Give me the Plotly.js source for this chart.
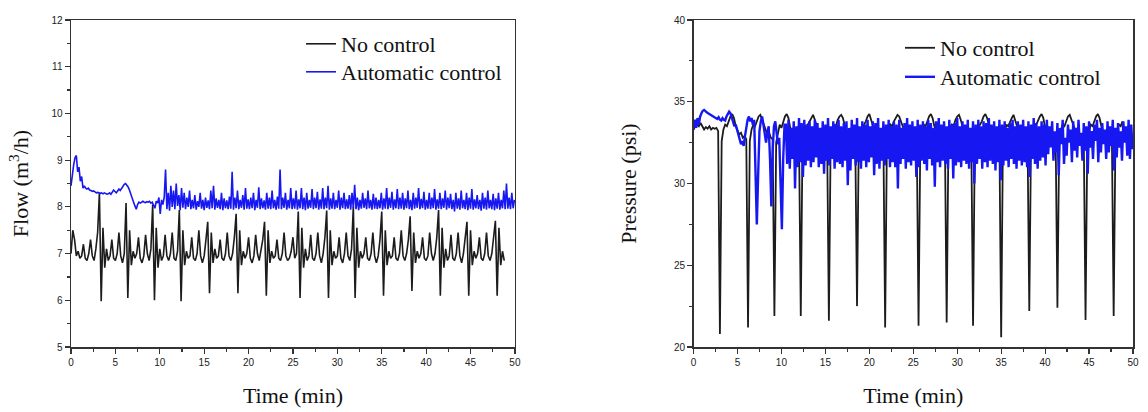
<!DOCTYPE html>
<html>
<head>
<meta charset="utf-8">
<script src="https://cdn.plot.ly/plotly-3.0.1.min.js"></script>
<style>html,body{margin:0;padding:0;background:#fff;}#chart{width:1148px;height:412px;}</style>
</head>
<body>
<div id="chart"></div>
<script>
// ---- data ----
const seriesNames = ['No control', 'Automatic control'];
const startTime = 0;          // min
const stepNoControl = 0.2;    // sampling step (min) of the "No control" records
const stepAutomatic = 0.15;   // sampling step (min) of the "Automatic control" records

// Flow (m3/h), no control
const flowNoControl = [
  7.0, 7.5, 7.3, 6.95, 7.05, 6.9, 6.95, 7.2, 6.9, 6.85, 7.0, 7.3, 6.95, 6.85, 7.1, 7.45,
  8.3, 5.98, 7.55, 6.7, 7.1, 6.85, 6.95, 7.3, 6.9, 6.85, 7.0, 7.45, 6.95, 6.8, 7.0,
  8.08, 6.05, 7.5, 6.75, 7.05, 6.9, 7.0, 7.35, 6.9, 6.8, 6.95, 7.4, 7.0, 6.85, 7.1,
  8.05, 6.0, 7.55, 6.7, 7.1, 6.85, 6.95, 7.4, 6.95, 6.85, 7.0, 7.45, 6.9, 6.85, 7.05,
  7.93, 5.98, 7.5, 6.75, 7.05, 6.9, 6.95, 7.35, 6.9, 6.85, 7.0, 7.5, 6.95, 6.8, 6.95, 7.3,
  7.68, 6.15, 7.45, 6.8, 7.1, 6.9, 6.95, 7.3, 6.9, 6.85, 7.0, 7.45, 6.95, 6.85, 7.0, 7.35,
  7.85, 6.15, 7.5, 6.75, 7.05, 6.9, 7.0, 7.35, 6.9, 6.8, 6.95, 7.4, 7.0, 6.85, 7.05, 7.3,
  7.68, 6.1, 7.5, 6.8, 7.05, 6.9, 6.95, 7.3, 6.9, 6.85, 7.0, 7.45, 6.95, 6.85, 6.9, 7.05, 7.35, 6.9, 7.0,
  7.9, 6.05, 7.55, 6.7, 7.1, 6.85, 6.95, 7.4, 6.9, 6.85, 7.0, 7.45, 6.95, 6.8, 7.0, 7.35,
  7.92, 6.05, 7.5, 6.75, 7.05, 6.9, 6.95, 7.35, 6.9, 6.8, 7.0, 7.45, 6.95, 6.85, 7.1,
  8.0, 6.05, 7.55, 6.7, 7.05, 6.9, 7.0, 7.35, 6.9, 6.85, 7.0, 7.45, 6.95, 6.8, 6.95, 7.3,
  7.9, 6.1, 7.5, 6.75, 7.05, 6.9, 6.95, 7.35, 6.9, 6.85, 7.0, 7.5, 6.95, 6.85, 7.0, 7.3,
  7.8, 6.2, 7.45, 6.8, 7.05, 6.9, 7.0, 7.35, 6.9, 6.85, 6.95, 7.45, 7.0, 6.85, 7.0, 7.35,
  7.93, 6.1, 7.55, 6.7, 7.1, 6.85, 6.95, 7.4, 6.9, 6.85, 7.0, 7.45, 6.95, 6.8, 7.0, 7.3,
  7.68, 6.1, 7.5, 6.75, 7.05, 6.9, 7.0, 7.35, 6.9, 6.85, 7.0, 7.45, 6.95, 6.85, 7.0, 7.35,
  7.7, 6.1, 7.55, 6.75, 7.05, 6.85
];

// Flow (m3/h), automatic control
const flowAutomatic = [
  8.45, 8.7, 8.9, 9.05, 9.1, 8.75, 8.85, 8.55, 8.65, 8.4, 8.45, 8.4, 8.38, 8.4, 8.36, 8.35, 8.33, 8.34, 8.32, 8.3,
  8.31, 8.3, 8.29, 8.3, 8.28, 8.3, 8.29, 8.27, 8.28, 8.3, 8.27, 8.32, 8.36, 8.33, 8.3, 8.34, 8.38, 8.35, 8.4, 8.45,
  8.48, 8.5, 8.46, 8.42, 8.35, 8.25, 8.15, 8.1, 8.02, 7.95, 8.05, 8.1, 8.08, 8.1, 8.12, 8.1, 8.09, 8.11, 8.1, 8.12,
  8.08, 8.1, 8.05, 7.97, 8.12, 8.08, 8.2, 7.85, 8.15, 8.05,
  8.2, 8.8, 7.95, 8.3, 7.92, 8.45, 8.0, 8.35, 7.95, 8.5, 8.02, 8.25, 7.93, 8.4, 7.98, 8.3, 7.95, 8.2, 8.0, 8.35,
  7.95, 8.15, 7.97, 8.25, 7.94, 8.12, 8.0, 8.3, 7.96, 8.15, 7.93, 8.2, 7.98, 8.14, 7.95, 8.35, 7.97, 8.45, 7.94, 8.18,
  7.98, 8.15, 7.95, 8.3, 7.93, 8.18, 7.97, 8.14, 7.95, 8.22, 7.96, 8.75, 7.94, 8.2, 7.97, 8.35, 7.95, 8.15, 7.98, 8.25,
  7.94, 8.4, 7.96, 8.16, 7.95, 8.2, 7.97, 8.3, 7.93, 8.15, 7.98, 8.42, 7.95, 8.18, 7.97, 8.14, 7.94, 8.3, 7.96, 8.2,
  7.95, 8.35, 7.97, 8.15, 7.94, 8.22, 7.96, 8.8, 7.95, 8.2, 7.98, 8.3, 7.94, 8.15, 7.97, 8.4, 7.95, 8.18, 7.96, 8.35,
  7.94, 8.16, 7.97, 8.4, 7.95, 8.2, 7.93, 8.3, 7.96, 8.15, 7.98, 8.38, 7.95, 8.2, 7.97, 8.32, 7.94, 8.16, 7.96, 8.4,
  7.95, 8.2, 7.97, 8.45, 7.94, 8.18, 7.96, 8.3, 7.95, 8.15, 7.98, 8.35, 7.94, 8.2, 7.97, 8.3, 7.95, 8.16, 7.96, 8.25,
  7.94, 8.3, 7.97, 8.47, 7.95, 8.2, 7.93, 8.15, 7.96, 8.3, 7.98, 8.18, 7.95, 8.35, 7.97, 8.15, 7.94, 8.28, 7.96, 8.2,
  7.95, 8.15, 7.97, 8.3, 7.94, 8.18, 7.96, 8.4, 7.95, 8.2, 7.98, 8.32, 7.94, 8.16, 7.97, 8.38, 7.95, 8.2, 7.96, 8.3,
  7.94, 8.18, 7.97, 8.35, 7.95, 8.15, 7.93, 8.3, 7.96, 8.2, 7.98, 8.4, 7.95, 8.17, 7.97, 8.32, 7.94, 8.15, 7.96, 8.3,
  7.95, 8.2, 7.97, 8.38, 7.94, 8.16, 7.96, 8.3, 7.95, 8.18, 7.98, 8.35, 7.94, 8.2, 7.97, 8.28, 7.95, 8.15, 7.9, 8.3,
  7.96, 8.18, 7.94, 8.35, 7.97, 8.15, 7.95, 8.3, 7.93, 8.2, 7.96, 8.38, 7.94, 8.16, 7.97, 8.25, 7.95, 8.15, 7.92, 8.3,
  7.96, 8.2, 7.94, 8.35, 7.97, 8.15, 7.95, 8.28, 7.93, 8.18, 7.96, 8.3, 7.94, 8.15, 7.97, 8.35, 7.95, 8.5, 7.96, 8.2,
  7.95, 8.3, 7.97, 8.15
];

// Pressure (psi), no control
const pressureNoControl = [
  33.3, 33.5, 33.6, 33.5, 33.7, 33.5, 33.3, 33.45, 33.35, 33.5, 33.3, 33.4, 33.35, 33.4, 33.2,
  20.8, 32.6, 33.3, 33.6, 33.5, 33.8, 34.1, 34.25, 34.0, 33.5, 33.2, 33.0, 33.1, 32.8, 32.9, 32.7,
  21.2, 32.6, 33.3, 33.6, 33.5, 33.8, 34.1, 34.2, 33.9, 33.5, 33.2, 33.0, 33.1, 32.8, 32.7,
  21.9, 32.5, 33.2, 33.6, 33.4, 33.8, 34.1, 34.25, 34.0, 33.4, 33.1, 33.0, 33.2, 32.9, 32.7,
  21.9, 32.6, 33.3, 33.5, 33.6, 33.8, 34.0, 34.2, 33.9, 33.5, 33.2, 33.0, 33.1, 32.8, 32.9, 32.7,
  21.6, 32.6, 33.2, 33.6, 33.5, 33.9, 34.1, 34.2, 34.0, 33.5, 33.1, 33.0, 33.2, 32.9, 32.8, 32.6,
  22.5, 32.7, 33.3, 33.5, 33.6, 33.8, 34.1, 34.25, 33.9, 33.4, 33.2, 33.0, 33.1, 32.8, 32.9, 32.7,
  21.2, 32.6, 33.3, 33.6, 33.5, 33.8, 34.0, 34.2, 34.1, 33.8, 33.4, 33.2, 33.0, 33.1, 32.9, 33.0, 32.8, 32.9, 32.7,
  21.3, 32.6, 33.2, 33.6, 33.5, 33.8, 34.1, 34.25, 34.0, 33.5, 33.2, 33.0, 33.1, 32.8, 32.9, 32.7,
  21.5, 32.6, 33.3, 33.6, 33.5, 33.9, 34.1, 34.2, 33.9, 33.4, 33.1, 33.0, 33.2, 32.9, 32.7,
  21.3, 32.5, 33.3, 33.5, 33.6, 33.8, 34.1, 34.25, 34.0, 33.5, 33.2, 33.0, 33.1, 32.8, 32.9, 32.7,
  20.6, 32.6, 33.2, 33.6, 33.5, 33.8, 34.0, 34.2, 33.9, 33.5, 33.1, 33.0, 33.2, 32.9, 32.8, 32.7,
  22.2, 32.7, 33.3, 33.5, 33.6, 33.9, 34.1, 34.25, 34.0, 33.4, 33.2, 33.0, 33.1, 32.8, 32.9, 32.7,
  22.4, 32.6, 33.3, 33.6, 33.5, 33.8, 34.1, 34.2, 33.9, 33.5, 33.2, 33.0, 33.1, 32.9, 32.8, 32.7,
  21.65, 32.6, 33.2, 33.6, 33.5, 33.8, 34.1, 34.25, 34.0, 33.5, 33.1, 33.0, 33.2, 32.8, 32.9, 32.7,
  21.9, 32.6, 33.3, 33.6, 33.5, 33.8
];

// Pressure (psi), automatic control
const pressureAutomatic = [
  33.3, 33.9, 33.4, 34.0, 33.6, 34.1, 34.3, 34.45, 34.5, 34.4, 34.35, 34.3, 34.25, 34.2, 34.15, 34.1, 34.05, 34.0, 33.95, 34.05,
  33.9, 33.85, 34.0, 33.9, 33.85, 34.1, 34.3, 34.4, 34.3, 34.0, 33.7, 33.5, 33.6, 33.3, 33.0, 32.7, 32.4, 32.6, 32.3, 32.9,
  33.5, 33.9, 34.1, 33.8, 34.0, 33.6, 33.9, 31.0, 27.5, 30.5, 33.2, 33.8, 34.1, 33.6, 33.0, 32.5, 33.1, 33.5, 31.5, 28.6,
  32.0, 33.5, 33.8, 33.2, 32.4, 32.8, 30.0, 27.2, 31.5, 33.6,
  33.6, 31.2, 33.9, 30.9, 33.4, 31.5, 33.8, 29.7, 33.5, 31.0, 34.0, 31.3, 33.7, 30.4, 33.9, 31.1, 33.6, 31.4, 33.8, 31.0,
  33.5, 31.3, 33.9, 31.6, 33.7, 31.0, 33.4, 31.2, 33.8, 30.6, 33.6, 31.4, 34.0, 31.1, 33.5, 31.5, 33.8, 30.9, 33.6, 31.3,
  33.9, 31.2, 33.5, 31.0, 33.7, 31.4, 33.8, 29.9, 33.4, 30.8, 33.9, 31.5, 33.6, 31.1, 34.0, 31.3, 33.5, 30.9, 33.8, 31.4,
  33.6, 31.0, 33.9, 31.3, 33.5, 31.6, 33.8, 30.5, 33.7, 31.2, 34.0, 30.9, 33.4, 31.4, 33.8, 31.1, 33.6, 31.5, 33.9, 31.0,
  33.5, 31.3, 33.8, 31.0, 33.6, 29.7, 33.9, 31.2, 33.4, 31.5, 33.7, 30.9, 34.0, 31.3, 33.6, 31.1, 33.8, 31.4, 33.5, 30.4,
  33.9, 31.0, 33.6, 31.4, 33.8, 31.2, 33.5, 30.8, 33.9, 31.5, 33.7, 31.1, 33.4, 29.8, 33.8, 31.3, 34.0, 31.0, 33.6, 31.4,
  33.8, 31.2, 33.5, 30.9, 33.9, 31.5, 33.6, 30.3, 33.7, 31.1, 34.0, 31.3, 33.5, 31.0, 33.8, 31.4, 33.6, 31.2, 33.9, 30.9,
  33.4, 31.3, 33.8, 30.0, 33.6, 31.2, 33.9, 31.5, 33.5, 30.9, 33.8, 31.3, 33.7, 31.0, 34.0, 31.4, 33.6, 31.2, 33.8, 30.8,
  33.5, 31.3, 33.9, 30.2, 33.6, 31.1, 33.8, 31.4, 33.4, 31.0, 33.7, 31.5, 33.9, 31.2, 33.5, 30.9, 33.8, 31.4, 33.6, 31.1,
  33.9, 31.3, 33.5, 31.0, 33.8, 30.4, 33.6, 31.5, 34.0, 31.2, 33.7, 30.9, 33.5, 31.4, 33.8, 31.6, 33.6, 31.1, 33.9, 31.8,
  33.5, 32.2, 33.8, 31.4, 33.2, 31.9, 33.7, 30.5, 33.4, 32.4, 33.9, 31.2, 32.8, 31.7, 33.6, 32.5, 33.3, 31.3, 33.8, 32.0,
  33.4, 31.6, 33.9, 32.3, 33.1, 31.4, 33.7, 32.0, 33.5, 30.6, 33.8, 32.2, 33.2, 31.5, 33.6, 32.6, 33.9, 31.3, 33.4, 31.9,
  33.7, 32.4, 33.3, 31.5, 33.8, 31.9, 33.5, 32.3, 33.9, 30.8, 33.4, 31.6, 33.7, 32.2, 33.2, 31.4, 33.8, 32.5, 33.5, 31.7,
  33.9, 31.5, 33.6, 32.1
];

// ---- styling ----
const colNo = '#1c1c1c';
const colAuto = '#1717f2';
const serif = 'Liberation Serif';
const sans = 'Liberation Sans';

const traces = [
  {type:'scatter', mode:'lines', name:seriesNames[0], x0:startTime, dx:stepNoControl, y:flowNoControl,
   xaxis:'x', yaxis:'y', legend:'legend', line:{color:colNo, width:1.6}},
  {type:'scatter', mode:'lines', name:seriesNames[1], x0:startTime, dx:stepAutomatic, y:flowAutomatic,
   xaxis:'x', yaxis:'y', legend:'legend2', line:{color:colAuto, width:1.6}},
  {type:'scatter', mode:'lines', name:seriesNames[0], x0:startTime, dx:stepNoControl, y:pressureNoControl,
   xaxis:'x2', yaxis:'y2', legend:'legend3', line:{color:colNo, width:1.8}},
  {type:'scatter', mode:'lines', name:seriesNames[1], x0:startTime, dx:stepAutomatic, y:pressureAutomatic,
   xaxis:'x2', yaxis:'y2', legend:'legend4', line:{color:colAuto, width:2.4}}
];

function axisBase(extra){
  return Object.assign({
    showgrid:false, zeroline:false, showline:true, mirror:true,
    linecolor:'#333', linewidth:1.5,
    ticks:'outside', ticklen:5, tickwidth:1.2, tickcolor:'#333',
    tickfont:{family:sans, size:10, color:'#222'},
    automargin:false
  }, extra);
}
function legendAt(x, y){
  return {x:x, y:y, xanchor:'left', yanchor:'middle', bgcolor:'rgba(0,0,0,0)',
    font:{family:serif, size:22, color:'#111'}, tracegroupgap:0};
}
const titleFont = {family:serif, size:22, color:'#111'};

const layout = {
  width:1148, height:412,
  margin:{l:71, r:15, t:20, b:65},
  paper_bgcolor:'#ffffff', plot_bgcolor:'#ffffff',
  showlegend:true,
  font:{family:serif, size:22, color:'#111'},
  xaxis: axisBase({domain:[0,0.418], anchor:'y', range:[0,50], tick0:0, dtick:5,
    minor:{dtick:2.5, ticks:'outside', ticklen:3, tickcolor:'#333'},
    title:{text:'Time (min)', font:titleFont, standoff:21}}),
  yaxis: axisBase({domain:[0,1], anchor:'x', range:[5,12], tick0:5, dtick:1,
    minor:{dtick:0.5, ticks:'outside', ticklen:3, tickcolor:'#333'},
    title:{text:'Flow (m<sup>3</sup>/h)', font:titleFont, standoff:16}}),
  xaxis2: axisBase({domain:[0.5862,1], anchor:'y2', range:[0,50], tick0:0, dtick:5,
    minor:{dtick:2.5, ticks:'outside', ticklen:3, tickcolor:'#333'},
    title:{text:'Time (min)', font:titleFont, standoff:21}}),
  yaxis2: axisBase({domain:[0,1], anchor:'x2', range:[20,40], tick0:20, dtick:5,
    minor:{dtick:2.5, ticks:'outside', ticklen:3, tickcolor:'#333'},
    title:{text:'Pressure (psi)', font:titleFont, standoff:31}}),
  legend:  legendAt(0.2166, 0.9266),
  legend2: legendAt(0.2166, 0.841),
  legend3: legendAt(0.7806, 0.9144),
  legend4: legendAt(0.7806, 0.8257)
};

Plotly.newPlot('chart', traces, layout, {staticPlot:true, displayModeBar:false});
</script>
</body>
</html>
